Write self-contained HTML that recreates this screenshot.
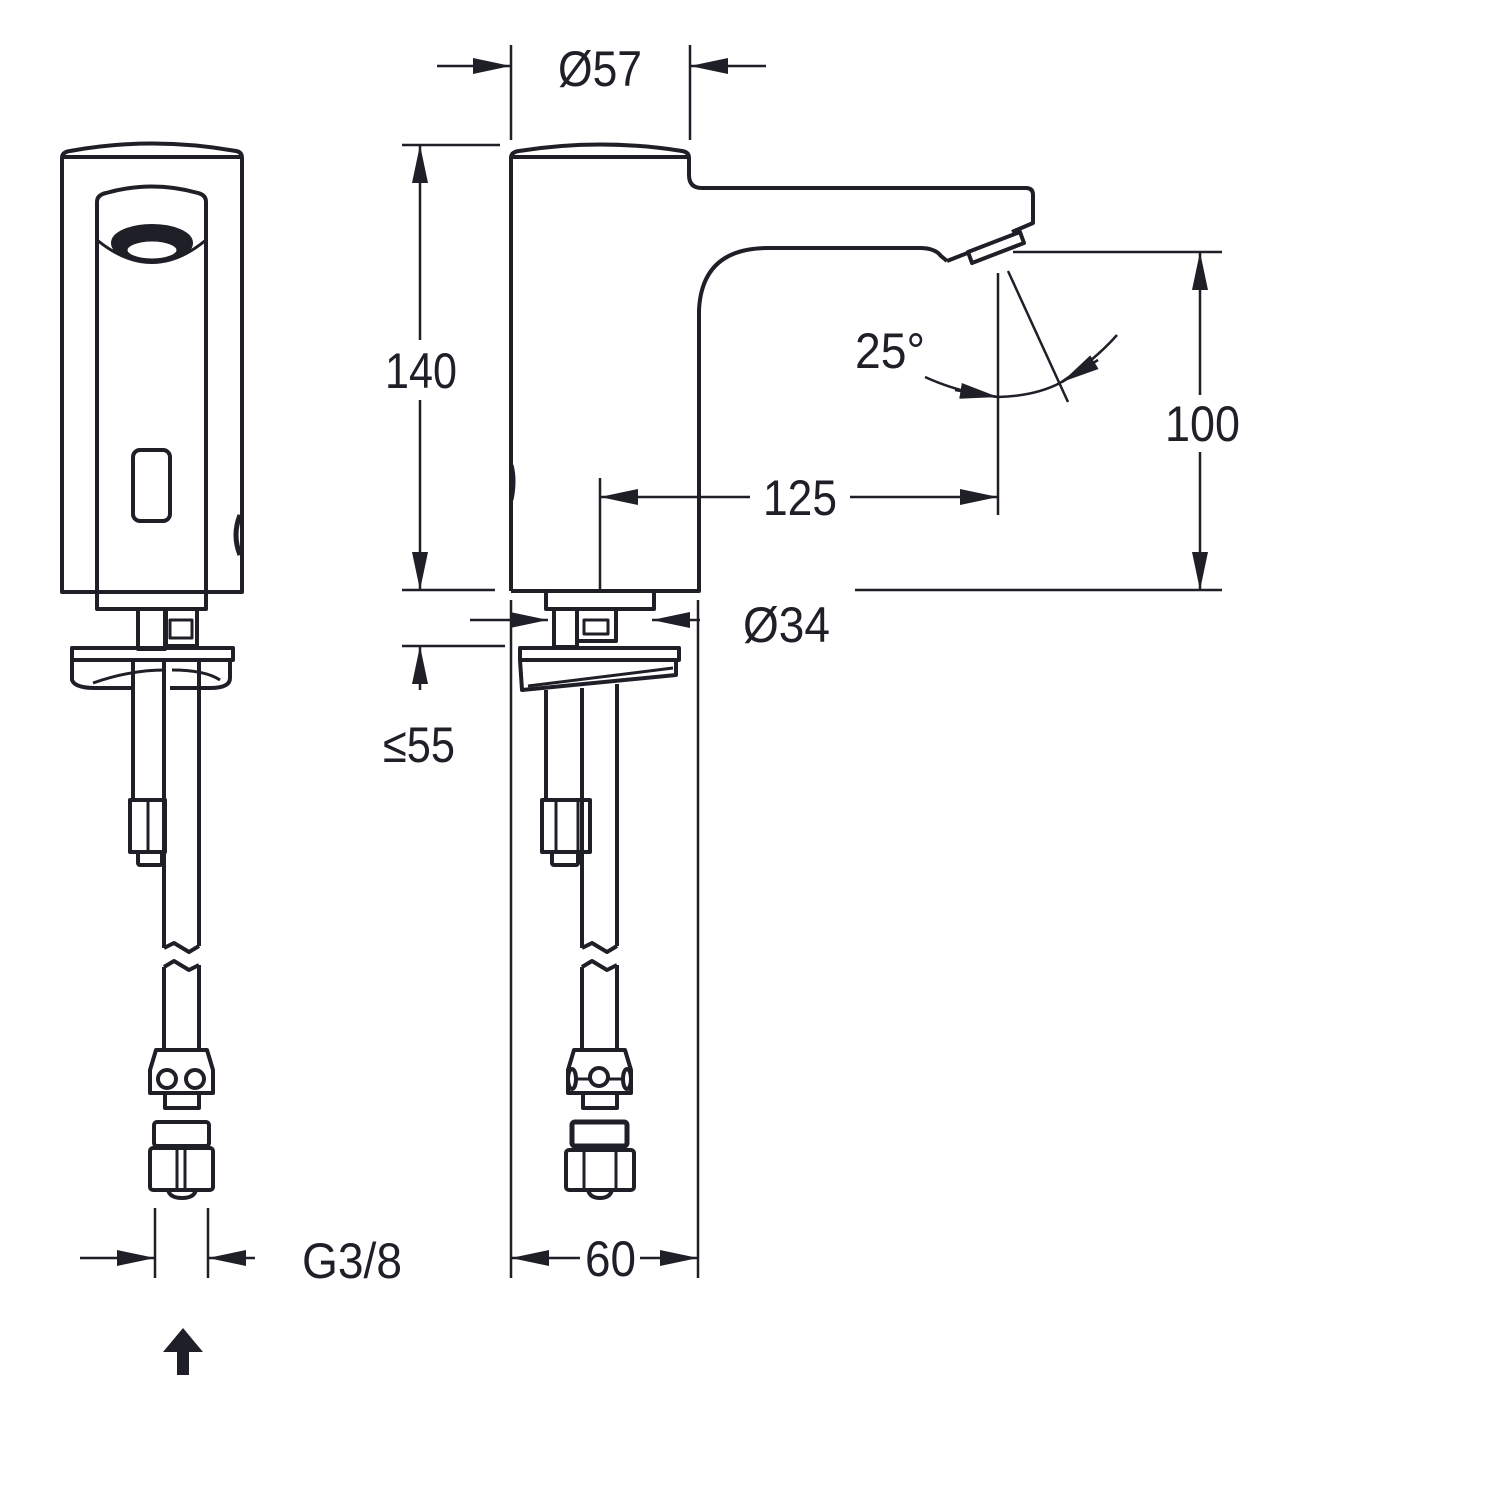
<!DOCTYPE html>
<html><head><meta charset="utf-8"><style>html,body{margin:0;padding:0;background:#fff}svg{display:block}</style></head>
<body>
<svg width="1500" height="1500" viewBox="0 0 1500 1500" xmlns="http://www.w3.org/2000/svg">
<defs>
<marker id="ar" viewBox="0 0 38 16" refX="38" refY="8" markerWidth="38" markerHeight="16" markerUnits="userSpaceOnUse" orient="auto"><path d="M0,0 L38,8 L0,16 Z" fill="#1f1f28"/></marker>
</defs>
<g fill="none" stroke="#1f1f28" stroke-width="4" stroke-linejoin="round">
<!-- LEFT VIEW -->
<path d="M62,592 L62,158 Q62,152 70,151 Q152,136 236,151 Q242,152 242,158 L242,592 Z"/>
<line x1="62" y1="157" x2="242" y2="157"/>
<path d="M97,609 L97,202 Q97,195 106,193 Q152,180 198,193 Q206,195 206,202 L206,609 Z"/>
<path d="M97,240 Q152,285 206,240" stroke-width="3"/>
<ellipse cx="152" cy="243" rx="39" ry="17" fill="#1f1f28"/>
<ellipse cx="152" cy="250" rx="26" ry="10" fill="#fff" stroke-width="3"/>
<rect x="133" y="450" width="37" height="71" rx="7"/>
<path d="M240,515 Q232,535 240,555" stroke-width="5"/>
<line x1="97" y1="592" x2="206" y2="592"/>
<rect x="138" y="609" width="27" height="40"/>
<rect x="166" y="609" width="31" height="37"/>
<rect x="170" y="620" width="22" height="18" stroke-width="3"/>
<path d="M72,648 L233,648 L233,660 L72,660 Z"/>
<path d="M72,660 L72,680 Q75,688 95,688 L135,688 M170,688 L210,688 Q230,688 230,678 L230,660"/>
<path d="M93,683 Q130,670 165,670 M172,670 Q205,670 220,680" stroke-width="3"/>
<line x1="133" y1="660" x2="133" y2="688"/>
<line x1="133" y1="688" x2="133" y2="800"/>
<line x1="164" y1="660" x2="164" y2="948"/>
<line x1="199" y1="660" x2="199" y2="946"/>
<path d="M164,948 L174,943 L189,952 L199,946"/>
<path d="M164,967 L174,961 L189,970 L199,965"/>
<line x1="164" y1="967" x2="164" y2="1050"/>
<line x1="199" y1="965" x2="199" y2="1050"/>
<rect x="130" y="800" width="35" height="52"/>
<line x1="148" y1="800" x2="148" y2="852" stroke-width="3"/>
<rect x="138" y="852" width="24" height="13" rx="2"/>
<path d="M156,1050 L207,1050 L213,1070 L213,1093 L150,1093 L150,1070 Z"/>
<circle cx="167" cy="1079" r="9"/><circle cx="195" cy="1079" r="9"/>
<rect x="165" y="1093" width="34" height="15"/>
<rect x="154" y="1122" width="55" height="24" rx="3"/>
<rect x="150" y="1148" width="63" height="42" rx="3"/>
<line x1="177" y1="1148" x2="177" y2="1190" stroke-width="3"/>
<line x1="185" y1="1148" x2="185" y2="1190" stroke-width="3"/>
<path d="M168,1190 Q170,1198 182,1198 Q194,1198 196,1190"/>
<!-- RIGHT VIEW -->
<path d="M511,591 L511,158 Q511,152 519,151 Q600,138 682,151 Q689,152 689,158 L689,175 Q689,188 702,188 L1026,188 Q1033,188 1033,195 L1033,223 L1012,232"/>
<line x1="511" y1="157" x2="689" y2="157"/>
<path d="M947,261 L941,256 Q935,248 920,248 L768,248 Q702,248 699,310 L699,591 L511,591"/>
<path d="M947,261 L970,252"/>
<path d="M968,252 L1020,232 L1024,243 L972,263 Z"/>
<path d="M512,465 Q516,480 512,500" stroke-width="3"/>
<rect x="546" y="591" width="108" height="18"/>
<rect x="554" y="609" width="23" height="38"/>
<rect x="577" y="609" width="39" height="32"/>
<rect x="584" y="620" width="24" height="14" stroke-width="3"/>
<path d="M520,648 L679,648 L679,660 L520,660 Z"/>
<path d="M520,660 L522,690 L676,675 L676,660"/>
<line x1="528" y1="686" x2="673" y2="668" stroke-width="3"/>
<line x1="546" y1="690" x2="546" y2="800"/>
<line x1="582" y1="688" x2="582" y2="948"/>
<line x1="617" y1="684" x2="617" y2="946"/>
<path d="M582,948 L592,943 L607,952 L617,946"/>
<path d="M582,967 L592,961 L607,970 L617,965"/>
<line x1="582" y1="967" x2="582" y2="1050"/>
<line x1="617" y1="965" x2="617" y2="1050"/>
<rect x="542" y="800" width="48" height="52"/>
<line x1="556" y1="800" x2="556" y2="852" stroke-width="3"/>
<line x1="578" y1="800" x2="578" y2="852" stroke-width="3"/>
<rect x="552" y="852" width="26" height="13" rx="2"/>
<path d="M574,1050 L625,1050 L631,1070 L631,1093 L568,1093 L568,1070 Z"/>
<ellipse cx="572" cy="1079" rx="4" ry="10"/><ellipse cx="627" cy="1079" rx="4" ry="10"/>
<circle cx="599" cy="1077" r="9"/>
<line x1="576" y1="1079" x2="590" y2="1079" stroke-width="3"/><line x1="608" y1="1079" x2="623" y2="1079" stroke-width="3"/>
<rect x="583" y="1093" width="34" height="15"/>
<rect x="572" y="1122" width="55" height="24" rx="3" stroke-width="5"/>
<rect x="566" y="1150" width="68" height="40" rx="3"/>
<line x1="584" y1="1150" x2="584" y2="1190" stroke-width="3"/>
<line x1="616" y1="1150" x2="616" y2="1190" stroke-width="3"/>
<path d="M588,1190 Q590,1198 600,1198 Q610,1198 612,1190"/>
</g>
<g stroke="#1f1f28" stroke-width="2.5" fill="none">
<line x1="511" y1="45" x2="511" y2="140"/><line x1="690" y1="45" x2="690" y2="140"/>
<line x1="437" y1="66" x2="511" y2="66" marker-end="url(#ar)"/>
<line x1="766" y1="66" x2="690" y2="66" marker-end="url(#ar)"/>
<line x1="402" y1="145" x2="500" y2="145"/><line x1="402" y1="590" x2="495" y2="590"/>
<line x1="420" y1="340" x2="420" y2="145" marker-end="url(#ar)"/>
<line x1="420" y1="400" x2="420" y2="590" marker-end="url(#ar)"/>
<line x1="1013" y1="252" x2="1222" y2="252"/><line x1="855" y1="590" x2="1222" y2="590"/>
<line x1="1200" y1="395" x2="1200" y2="252" marker-end="url(#ar)"/>
<line x1="1200" y1="452" x2="1200" y2="590" marker-end="url(#ar)"/>
<line x1="600" y1="478" x2="600" y2="590"/><line x1="998" y1="273" x2="998" y2="515"/>
<line x1="750" y1="497" x2="600" y2="497" marker-end="url(#ar)"/>
<line x1="850" y1="497" x2="998" y2="497" marker-end="url(#ar)"/>
<line x1="1008" y1="271" x2="1068" y2="402"/>
<path d="M925,377 Q960,393 998,397"/>
<path d="M1117,335 Q1095,360 1060,383"/>
<path d="M998,397 Q1035,396 1060,383"/>
<line x1="955" y1="390" x2="998" y2="397" marker-end="url(#ar)"/>
<line x1="1098" y1="360" x2="1062" y2="382" marker-end="url(#ar)"/>
<line x1="511" y1="600" x2="511" y2="1278"/><line x1="698" y1="600" x2="698" y2="1278"/>
<line x1="470" y1="620" x2="548" y2="620" marker-end="url(#ar)"/>
<line x1="700" y1="620" x2="652" y2="620" marker-end="url(#ar)"/>
<line x1="402" y1="646" x2="505" y2="646"/>
<line x1="420" y1="690" x2="420" y2="646" marker-end="url(#ar)"/>
<line x1="580" y1="1258" x2="511" y2="1258" marker-end="url(#ar)"/>
<line x1="640" y1="1258" x2="698" y2="1258" marker-end="url(#ar)"/>
<line x1="155" y1="1208" x2="155" y2="1278"/><line x1="208" y1="1208" x2="208" y2="1278"/>
<line x1="80" y1="1258" x2="155" y2="1258" marker-end="url(#ar)"/>
<line x1="255" y1="1258" x2="208" y2="1258" marker-end="url(#ar)"/>
</g>
<path d="M183,1328 L203,1352 L189,1352 L189,1375 L177,1375 L177,1352 L163,1352 Z" fill="#1f1f28"/>
<g font-family="Liberation Sans, sans-serif" font-size="50" fill="#1f1f28" lengthAdjust="spacingAndGlyphs">
<text x="558" y="86" textLength="84" lengthAdjust="spacingAndGlyphs">Ø57</text>
<text x="385" y="388" textLength="72" lengthAdjust="spacingAndGlyphs">140</text>
<text x="1165" y="441" textLength="75" lengthAdjust="spacingAndGlyphs">100</text>
<text x="763" y="515" textLength="74" lengthAdjust="spacingAndGlyphs">125</text>
<text x="855" y="368" textLength="70" lengthAdjust="spacingAndGlyphs">25°</text>
<text x="743" y="642" textLength="87" lengthAdjust="spacingAndGlyphs">Ø34</text>
<text x="383" y="762" textLength="72" lengthAdjust="spacingAndGlyphs">≤55</text>
<text x="585" y="1276" textLength="51" lengthAdjust="spacingAndGlyphs">60</text>
<text x="302" y="1278" textLength="100" lengthAdjust="spacingAndGlyphs">G3/8</text>
</g>
</svg>
</body></html>
